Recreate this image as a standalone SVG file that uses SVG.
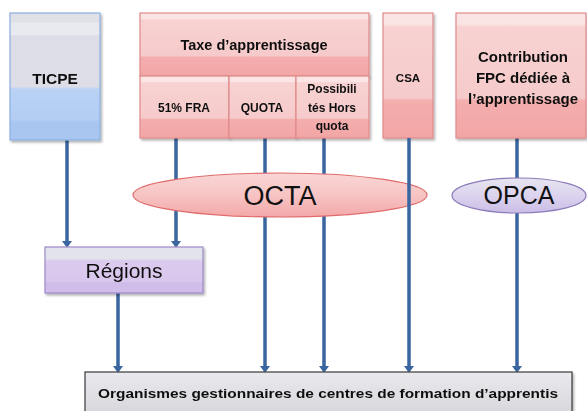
<svg xmlns="http://www.w3.org/2000/svg" width="587" height="411" viewBox="0 0 587 411">
<style>
.t{font-family:"Liberation Sans",Arial,sans-serif;fill:#111;text-anchor:middle}
.b{font-weight:bold}
.pk{fill:url(#gPink);stroke:#df8a8a;stroke-width:1.2}
.ln{stroke:#3a66a0;stroke-width:3.5;fill:none;marker-end:url(#arr)}
</style>
<defs>
<filter id="sh" x="-10%" y="-10%" width="125%" height="130%">
<feDropShadow dx="1.5" dy="2" stdDeviation="1.3" flood-color="#000" flood-opacity="0.3"/>
</filter>
<marker id="arr" markerUnits="userSpaceOnUse" viewBox="0 0 7 10" markerWidth="7" markerHeight="10" refX="0" refY="5" orient="auto">
<path d="M0,0 L7,5 L0,10 z" fill="#3a66a0"/>
</marker>
<linearGradient id="gTicpe" x1="0" y1="0" x2="0" y2="1">
<stop offset="0" stop-color="#dfe0e8"/>
<stop offset="0.07" stop-color="#dfe0e8"/>
<stop offset="0.08" stop-color="#e9eaf0"/>
<stop offset="0.17" stop-color="#e9eaf0"/>
<stop offset="0.18" stop-color="#dcdde6"/>
<stop offset="0.58" stop-color="#dcdde6"/>
<stop offset="0.6" stop-color="#b9d2f6"/>
<stop offset="0.84" stop-color="#b3cdf3"/>
<stop offset="0.86" stop-color="#a8c6f0"/>
<stop offset="1" stop-color="#a8c6f0"/>
</linearGradient>
<linearGradient id="gPink" x1="0" y1="0" x2="0" y2="1">
<stop offset="0" stop-color="#fbe4e4"/>
<stop offset="0.09" stop-color="#fbe4e4"/>
<stop offset="0.11" stop-color="#f8d2d2"/>
<stop offset="0.68" stop-color="#f6caca"/>
<stop offset="0.7" stop-color="#f4aeae"/>
<stop offset="1" stop-color="#f3a5a5"/>
</linearGradient>
<linearGradient id="gReg" x1="0" y1="0" x2="0" y2="1">
<stop offset="0" stop-color="#e3e4eb"/>
<stop offset="0.25" stop-color="#e3e4eb"/>
<stop offset="0.3" stop-color="#dccbee"/>
<stop offset="0.75" stop-color="#d8c6ec"/>
<stop offset="0.78" stop-color="#d1bde9"/>
<stop offset="1" stop-color="#d1bde9"/>
</linearGradient>
<linearGradient id="gGray" x1="0" y1="0" x2="0" y2="1">
<stop offset="0" stop-color="#e9e9ee"/>
<stop offset="1" stop-color="#d4d4d8"/>
</linearGradient>
<linearGradient id="gOcta" x1="0" y1="0" x2="0" y2="1">
<stop offset="0" stop-color="#fad6d6"/>
<stop offset="0.5" stop-color="#f7c4c4"/>
<stop offset="1" stop-color="#f3a8a8"/>
</linearGradient>
<linearGradient id="gOpca" x1="0" y1="0" x2="0" y2="1">
<stop offset="0" stop-color="#e7e5ef"/>
<stop offset="0.5" stop-color="#dcd3ee"/>
<stop offset="1" stop-color="#cbbde6"/>
</linearGradient>
</defs>

<g id="connectors">
<line class="ln" x1="67" y1="140" x2="67" y2="241"/>
<line class="ln" x1="176" y1="138" x2="176" y2="241"/>
<line class="ln" x1="265" y1="138" x2="265" y2="366"/>
<line class="ln" x1="324" y1="138" x2="324" y2="366"/>
<line class="ln" x1="517" y1="138" x2="517" y2="366"/>
<line class="ln" x1="118" y1="293" x2="118" y2="366"/>
</g>

<g id="ticpe" filter="url(#sh)">
<rect x="10" y="13" width="90" height="127" fill="url(#gTicpe)" stroke="#8cb0e0" stroke-width="1.2"/>
<text class="t b" x="55" y="84" font-size="15.5">TICPE</text>
</g>

<g id="taxe" filter="url(#sh)">
<rect class="pk" x="140" y="13" width="229" height="63"/>
<text class="t b" x="254" y="50" font-size="14.5">Taxe d’apprentissage</text>
</g>
<g id="fra" filter="url(#sh)">
<rect class="pk" x="140" y="76" width="89" height="62"/>
<text class="t b" x="184" y="112" font-size="12">51% FRA</text>
</g>
<g id="quota" filter="url(#sh)">
<rect class="pk" x="229" y="76" width="67" height="62"/>
<text class="t b" x="262" y="112" font-size="12">QUOTA</text>
</g>
<g id="horsquota" filter="url(#sh)">
<rect class="pk" x="296" y="76" width="73" height="62"/>
<text class="t b" font-size="12"><tspan x="332" y="93">Possibili</tspan><tspan x="332" y="112">tés Hors</tspan><tspan x="332" y="130">quota</tspan></text>
</g>

<g id="csa" filter="url(#sh)">
<rect class="pk" x="383" y="13" width="50" height="125"/>
<text class="t b" x="408" y="82" font-size="11.5">CSA</text>
</g>

<g id="contribution" filter="url(#sh)">
<rect class="pk" x="456" y="13" width="130" height="125"/>
<text class="t b" font-size="15"><tspan x="523" y="62">Contribution</tspan><tspan x="523" y="83">FPC dédiée à</tspan><tspan x="523" y="104">l’apprentissage</tspan></text>
</g>

<g id="octa">
<ellipse cx="280" cy="195" rx="147" ry="22" fill="url(#gOcta)" stroke="#e06b6b" stroke-width="1.2"/>
<text class="t" x="280" y="205" font-size="27">OCTA</text>
</g>

<g id="connectors-front">
<line class="ln" x1="409" y1="138" x2="409" y2="366"/>
</g>

<g id="opca">
<ellipse cx="519" cy="195.5" rx="67" ry="17.5" fill="url(#gOpca)" stroke="#8c7bbb" stroke-width="1.2"/>
<text class="t" x="519" y="204" font-size="25">OPCA</text>
</g>

<g id="regions" filter="url(#sh)">
<rect x="45" y="247" width="158" height="46" fill="url(#gReg)" stroke="#9d89c8" stroke-width="1.2"/>
<text class="t" x="124" y="278" font-size="21">Régions</text>
</g>

<g id="organismes" filter="url(#sh)">
<rect x="85" y="372" width="487" height="50" fill="url(#gGray)" stroke="#3a3a3a" stroke-width="1.2"/>
<text class="t b" x="328" y="398" font-size="13" textLength="460" lengthAdjust="spacingAndGlyphs">Organismes gestionnaires de centres de formation d’apprentis</text>
</g>
</svg>
